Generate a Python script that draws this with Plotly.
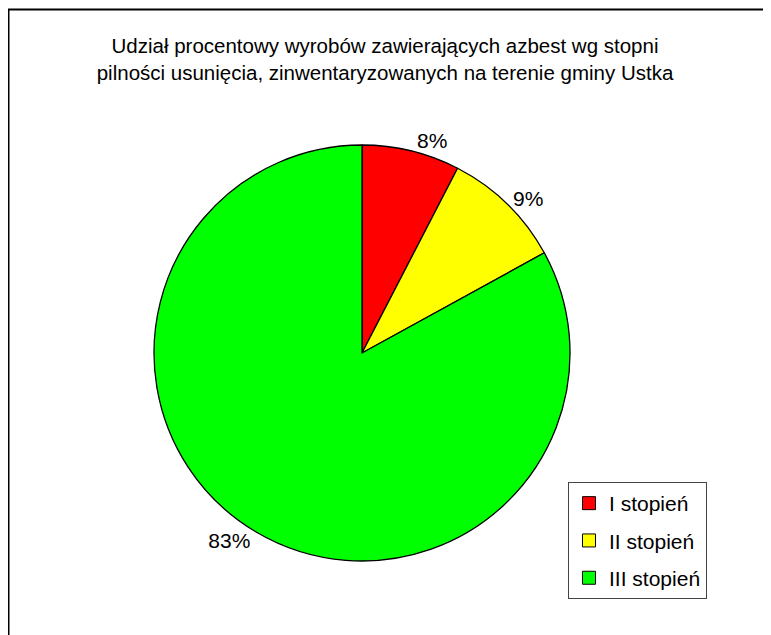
import plotly.graph_objects as go

categories = ["I stopień", "II stopień", "III stopień"]
values = [7.6, 9.4, 83.0]
colors = ["#FF0000", "#FFFF00", "#00FF00"]
title_text = ("Udział procentowy wyrobów zawierających azbest wg stopni<br>"
              "pilności usunięcia, zinwentaryzowanych na terenie gminy Ustka")

W, H = 771, 635
OFF = 8  # page body margin
cx, cy, r = 362 - OFF, 353 - OFF, 208
FONT = "Liberation Sans, Arial"

fig = go.Figure()
fig.add_trace(go.Pie(
    labels=categories,
    values=values,
    sort=False,
    direction="clockwise",
    rotation=0,
    marker=dict(colors=colors, line=dict(color="black", width=1.3)),
    textposition="outside",
    texttemplate="%{percent:.0%}",
    textfont=dict(family=FONT, size=21, color="black"),
    hoverinfo="label+percent",
    showlegend=False,
    domain=dict(x=[(cx - r) / W, (cx + r) / W],
                y=[(H - cy - r) / H, (H - cy + r) / H]),
))

# legend entries (one per category) with square swatches
for cat, col in zip(categories, colors):
    fig.add_trace(go.Scatter(
        x=[None], y=[None], mode="markers", name=cat, legendgroup=cat,
        marker=dict(symbol="square", size=13, color=col,
                    line=dict(color="black", width=1)),
        showlegend=True, hoverinfo="skip",
    ))

fig.update_layout(
    width=W, height=H,
    margin=dict(l=0, r=0, t=0, b=0),
    paper_bgcolor="white",
    plot_bgcolor="white",
    font=dict(family=FONT, size=21, color="black"),
    xaxis=dict(visible=False),
    yaxis=dict(visible=False),
    title=dict(text=title_text, x=(385 - OFF) / W, xanchor="center",
               y=1 - 45 / H, yanchor="top",
               font=dict(family=FONT, size=20.5, color="black")),
    legend=dict(x=(568 - OFF) / W, y=1 - (482 - OFF) / H,
                xanchor="left", yanchor="top",
                bgcolor="white", bordercolor="#444444", borderwidth=1,
                tracegroupgap=7, itemwidth=30,
                font=dict(family=FONT, size=21, color="black")),
    shapes=[dict(type="rect", xref="paper", yref="paper",
                 x0=0.5 / W, x1=1.05, y0=-0.05, y1=1 - 1.5 / H,
                 line=dict(color="black", width=2))],
)

fig.write_html("out.html")
